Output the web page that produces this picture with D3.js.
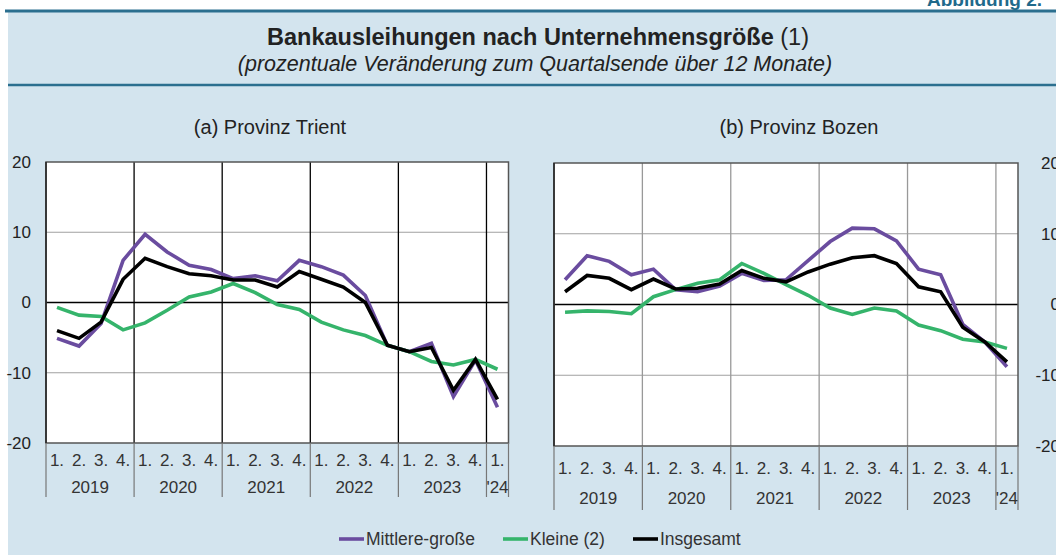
<!DOCTYPE html>
<html>
<head>
<meta charset="utf-8">
<title>Bankausleihungen nach Unternehmensgröße</title>
<script src="https://cdn.jsdelivr.net/npm/d3@7"></script>
<style type="text/css">
  body { margin: 0; background: #fff; }
  text { font-family: "Liberation Sans", Arial, Helvetica, sans-serif; fill: #222; }
</style>
</head>
<body>
<div id="chart"></div>
<script type="text/javascript">
// quarters 2019 Q1 .. 2024 Q1
var periods = ["2019-1","2019-2","2019-3","2019-4","2020-1","2020-2","2020-3","2020-4",
               "2021-1","2021-2","2021-3","2021-4","2022-1","2022-2","2022-3","2022-4",
               "2023-1","2023-2","2023-3","2023-4","2024-1"];
var quarterLabels = ["1.","2.","3.","4."];
var yearLabels = ["2019","2020","2021","2022","2023","'24"];
var yTicks = [-20, -10, 0, 10, 20];

// (a) Provinz Trient
var trientMittel = [-5.1,-6.2,-3.0,6.0,9.7,7.2,5.3,4.7,3.4,3.8,3.1,6.0,5.1,3.9,1.0,-6.1,-7.0,-5.8,-13.4,-8.2,-14.9];
var trientKleine = [-0.7,-1.8,-2.0,-3.9,-2.9,-1.1,0.8,1.5,2.7,1.4,-0.3,-1.0,-2.8,-3.9,-4.7,-6.1,-7.0,-8.4,-8.9,-8.1,-9.5];
var trientGesamt = [-4.0,-5.1,-2.8,3.3,6.3,5.1,4.1,3.8,3.2,3.2,2.2,4.4,3.3,2.2,0.0,-6.1,-7.0,-6.4,-12.5,-8.1,-13.8];

// (b) Provinz Bozen
var bozenMittel = [3.5,6.9,6.1,4.2,5.0,2.1,1.8,2.6,4.4,3.4,3.5,6.2,8.9,10.8,10.7,9.0,5.0,4.2,-2.8,-5.3,-8.8];
var bozenKleine = [-1.1,-0.9,-1.0,-1.3,1.1,2.1,3.0,3.5,5.8,4.4,2.8,1.3,-0.5,-1.4,-0.5,-0.9,-2.9,-3.7,-4.9,-5.3,-6.2];
var bozenGesamt = [1.8,4.1,3.7,2.1,3.6,2.2,2.3,2.9,4.8,3.7,3.2,4.6,5.7,6.6,6.9,5.8,2.5,1.8,-3.2,-5.3,-8.1];

var seriesNames = ["Mittlere-große", "Kleine (2)", "Insgesamt"];
var seriesColors = ["#6a4c9f", "#35b46b", "#000000"];

var width = 1056, height = 555;
var svg = d3.select("#chart").append("svg")
  .attr("width", width)
  .attr("height", height);

// background box + teal rules
svg.append("rect").attr("x", 8).attr("y", 12).attr("width", width - 8).attr("height", height - 12)
  .attr("fill", "#d3e4ee");
svg.append("line").attr("x1", 5).attr("x2", width).attr("y1", 11).attr("y2", 11)
  .attr("stroke", "#2b6f8f").attr("stroke-width", 3);
svg.append("line").attr("x1", 8).attr("x2", width).attr("y1", 85).attr("y2", 85)
  .attr("stroke", "#2b6f8f").attr("stroke-width", 2.5);

svg.append("text").attr("x", 927).attr("y", 6)
  .style("font-size", "19px").style("font-weight", "bold").style("fill", "#1f6a8c")
  .text("Abbildung 2.");

// titles
var title = svg.append("text").attr("x", 538).attr("y", 45).attr("text-anchor", "middle")
  .style("font-size", "23.5px");
title.append("tspan").style("font-weight", "bold").text("Bankausleihungen nach Unternehmensgröße");
title.append("tspan").text(" (1)");
svg.append("text").attr("x", 535).attr("y", 71).attr("text-anchor", "middle")
  .style("font-size", "21.5px").style("font-style", "italic")
  .text("(prozentuale Veränderung zum Quartalsende über 12 Monate)");

var panels = [
  { title: "(a) Provinz Trient", titleX: 270, left: 46, right: 508.5, top: 162, bottom: 443,
    side: "left", yearColor: "#000", qY: 466, yearY: 493, sepBottom: 497,
    series: [trientMittel, trientKleine, trientGesamt] },
  { title: "(b) Provinz Bozen", titleX: 799, left: 554, right: 1018, top: 163, bottom: 446,
    side: "right", yearColor: "#999", qY: 474, yearY: 504, sepBottom: 510,
    series: [bozenMittel, bozenKleine, bozenGesamt] }
];

panels.forEach(function(p) {
  var x = d3.scaleBand().domain(periods).range([p.left, p.right]);
  var y = d3.scaleLinear().domain([-20, 20]).range([p.bottom, p.top]);
  var g = svg.append("g");

  svg.append("text").attr("x", p.titleX).attr("y", 134).attr("text-anchor", "middle")
    .style("font-size", "20px").text(p.title);

  // plot area
  g.append("rect").attr("x", p.left).attr("y", p.top)
    .attr("width", p.right - p.left).attr("height", p.bottom - p.top)
    .attr("fill", "#fff");

  // horizontal grid
  g.selectAll(".hgrid").data(yTicks.filter(function(d) { return d !== 0 && Math.abs(d) < 20; }))
    .enter().append("line")
    .attr("x1", p.left).attr("x2", p.right)
    .attr("y1", function(d) { return y(d); }).attr("y2", function(d) { return y(d); })
    .attr("stroke", "#a0a0a0").attr("stroke-width", 1.2);

  // year boundaries (first quarter of every year)
  var yearStarts = periods.filter(function(d, i) { return i % 4 === 0 && i > 0; });
  g.selectAll(".vgrid").data(yearStarts).enter().append("line")
    .attr("x1", function(d) { return x(d); }).attr("x2", function(d) { return x(d); })
    .attr("y1", p.top).attr("y2", p.bottom)
    .attr("stroke", p.yearColor).attr("stroke-width", 1.3);

  // zero line
  g.append("line").attr("x1", p.left).attr("x2", p.right)
    .attr("y1", y(0)).attr("y2", y(0)).attr("stroke", "#000").attr("stroke-width", 1.3);

  // border
  g.append("rect").attr("x", p.left).attr("y", p.top)
    .attr("width", p.right - p.left).attr("height", p.bottom - p.top)
    .attr("fill", "none").attr("stroke", "#555").attr("stroke-width", 1.5);
  g.append("line").attr("x1", p.left).attr("x2", p.left).attr("y1", p.top).attr("y2", p.bottom)
    .attr("stroke", "#222").attr("stroke-width", 1.5);

  // separators below the plot
  var seps = periods.filter(function(d, i) { return i % 4 === 0; });
  g.selectAll(".sep").data(seps).enter().append("line")
    .attr("x1", function(d) { return x(d); }).attr("x2", function(d) { return x(d); })
    .attr("y1", p.bottom).attr("y2", p.sepBottom)
    .attr("stroke", "#777").attr("stroke-width", 1.2);
  g.append("line").attr("x1", p.right).attr("x2", p.right)
    .attr("y1", p.bottom).attr("y2", p.sepBottom)
    .attr("stroke", "#777").attr("stroke-width", 1.2);

  // quarter labels
  g.selectAll(".q").data(periods).enter().append("text")
    .attr("x", function(d) { return x(d) + x.bandwidth() / 2; })
    .attr("y", p.qY).attr("text-anchor", "middle")
    .style("font-size", "17px").style("fill", "#333")
    .text(function(d, i) { return quarterLabels[i % 4]; });

  // year labels centred on their quarters
  g.selectAll(".yr").data(yearLabels).enter().append("text")
    .attr("x", function(d, i) {
      var qs = periods.slice(i * 4, i * 4 + 4);
      return (x(qs[0]) + x(qs[qs.length - 1]) + x.bandwidth()) / 2;
    })
    .attr("y", p.yearY).attr("text-anchor", "middle")
    .style("font-size", "17px").style("fill", "#333")
    .text(function(d) { return d; });

  // y axis (plain hyphen for negatives, as in the original)
  var axis = p.side === "left" ? d3.axisLeft(y) : d3.axisRight(y);
  var ax = g.append("g")
    .call(axis.tickValues(yTicks).tickSize(0).tickFormat(function(d) { return String(d); }));
  ax.select(".domain").remove();
  ax.selectAll("text")
    .attr("x", p.side === "left" ? 31 - p.left : 1060 - p.right)
    .attr("text-anchor", "end")
    .style("font-size", "17px").style("font-family", "Liberation Sans, Arial, sans-serif")
    .style("fill", "#222").attr("fill", "#222");
  ax.attr("transform", "translate(" + (p.side === "left" ? p.left : p.right) + ",0)");

  // lines
  var line = d3.line()
    .x(function(d, i) { return x(periods[i]) + x.bandwidth() / 2; })
    .y(function(d) { return y(d); });
  p.series.forEach(function(s, k) {
    g.append("path").datum(s)
      .attr("d", line)
      .attr("fill", "none")
      .attr("stroke", seriesColors[k])
      .attr("stroke-width", 3.6)
      .attr("stroke-linejoin", "miter");
  });
});

// legend
var legendX = [339, 503, 633];
var legend = svg.selectAll(".legend").data(seriesNames).enter().append("g")
  .attr("transform", function(d, i) { return "translate(" + legendX[i] + ",539)"; });
legend.append("line").attr("x1", 0).attr("x2", 25).attr("y1", 0).attr("y2", 0)
  .attr("stroke", function(d, i) { return seriesColors[i]; }).attr("stroke-width", 3.6);
legend.append("text").attr("x", 27).attr("y", 6)
  .style("font-size", "17.5px").style("fill", "#333")
  .text(function(d) { return d; });
</script>
</body>
</html>
